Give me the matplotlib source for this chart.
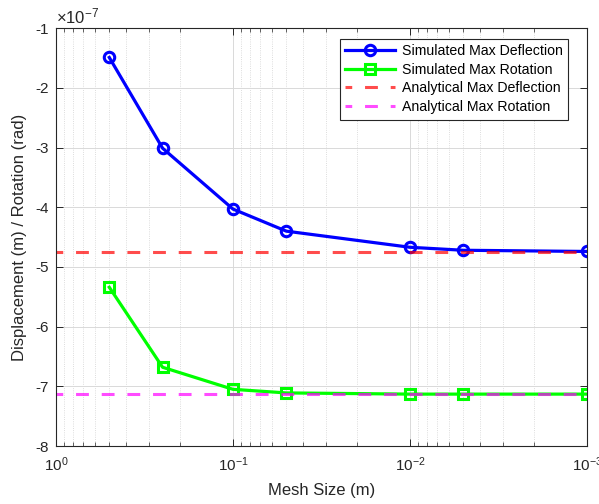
import matplotlib
matplotlib.use("Agg")
import matplotlib.pyplot as plt
from matplotlib.ticker import FuncFormatter, LogLocator, FixedLocator

plt.rcParams['font.family'] = ['Liberation Sans', 'DejaVu Sans']
plt.rcParams['mathtext.fontset'] = 'custom'
plt.rcParams['mathtext.rm'] = 'Liberation Sans'
plt.rcParams['mathtext.it'] = 'Liberation Sans:italic'

# data
mesh_size = [0.5, 0.25, 0.1, 0.05, 0.01, 0.005, 0.001]
sim_deflection = [-1.49e-7, -3.01e-7, -4.03e-7, -4.40e-7, -4.67e-7, -4.72e-7, -4.74e-7]
sim_rotation = [-5.34e-7, -6.68e-7, -7.05e-7, -7.11e-7, -7.13e-7, -7.13e-7, -7.13e-7]
ana_deflection = -4.75e-7
ana_rotation = -7.13e-7
y_ticks = [-8e-7, -7e-7, -6e-7, -5e-7, -4e-7, -3e-7, -2e-7, -1e-7]

dark = (0.15, 0.15, 0.15)

fig = plt.figure(figsize=(5.99, 5.04), dpi=100)
ax = fig.add_axes([0.0935, 0.115, 0.8865, 0.829])

ax.plot(mesh_size, sim_deflection, '-o', color='blue', lw=2.3, ms=7.5,
        mfc='none', mew=2.2, label='Simulated Max Deflection')
ax.plot(mesh_size, sim_rotation, '-s', color=(0, 1, 0), lw=2.3, ms=7,
        mfc='none', mew=2.2, label='Simulated Max Rotation')
ax.axhline(ana_deflection, color='red', alpha=0.7, ls=(2, (4.2, 4.2)), lw=2.2,
           label='Analytical Max Deflection')
ax.axhline(ana_rotation, color='magenta', alpha=0.7, ls=(2, (4.2, 4.2)), lw=2.2,
           label='Analytical Max Rotation')

ax.set_xscale('log')
ax.set_xlim(1, 1e-3)
ax.set_ylim(-8e-7, -1e-7)
ax.yaxis.set_major_locator(FixedLocator(y_ticks))
ax.yaxis.set_major_formatter(FuncFormatter(lambda v, p: '%g' % round(v / 1e-7, 6)))
ax.xaxis.set_major_locator(LogLocator(base=10, numticks=10))
ax.xaxis.set_minor_locator(LogLocator(base=10, subs=range(2, 10), numticks=20))

ax.grid(True, which='major', color=(0.85, 0.85, 0.85), lw=0.7)
ax.grid(True, which='minor', axis='x', color=(0.82, 0.82, 0.82), lw=0.6, ls=':')
ax.set_axisbelow(True)

ax.tick_params(which='both', direction='in', top=True, right=True,
               colors=dark, labelsize=11)
ax.tick_params(which='major', length=5, width=0.7)
ax.tick_params(which='minor', length=3, width=0.5)
ax.tick_params(axis='x', which='major', pad=7)
ax.tick_params(axis='y', which='major', pad=5)
for s in ax.spines.values():
    s.set_color(dark)
    s.set_linewidth(0.8)

ax.text(0, 1.004, r'$\times10^{-7}$', transform=ax.transAxes, fontsize=12,
        color=dark, ha='left', va='bottom')

ax.set_xlabel('Mesh Size (m)', fontsize=12, color=dark, labelpad=6)
ax.set_ylabel('Displacement (m) / Rotation (rad)', fontsize=12, color=dark, labelpad=6)

leg = ax.legend(loc='upper right', bbox_to_anchor=(0.965, 0.975), fontsize=10.2,
                frameon=True, fancybox=False, edgecolor=dark, framealpha=1,
                handlelength=3.5, borderpad=0.4, labelspacing=0.32,
                handletextpad=0.5, borderaxespad=0)
leg.get_frame().set_linewidth(0.8)

plt.savefig('out.png', dpi=100)
